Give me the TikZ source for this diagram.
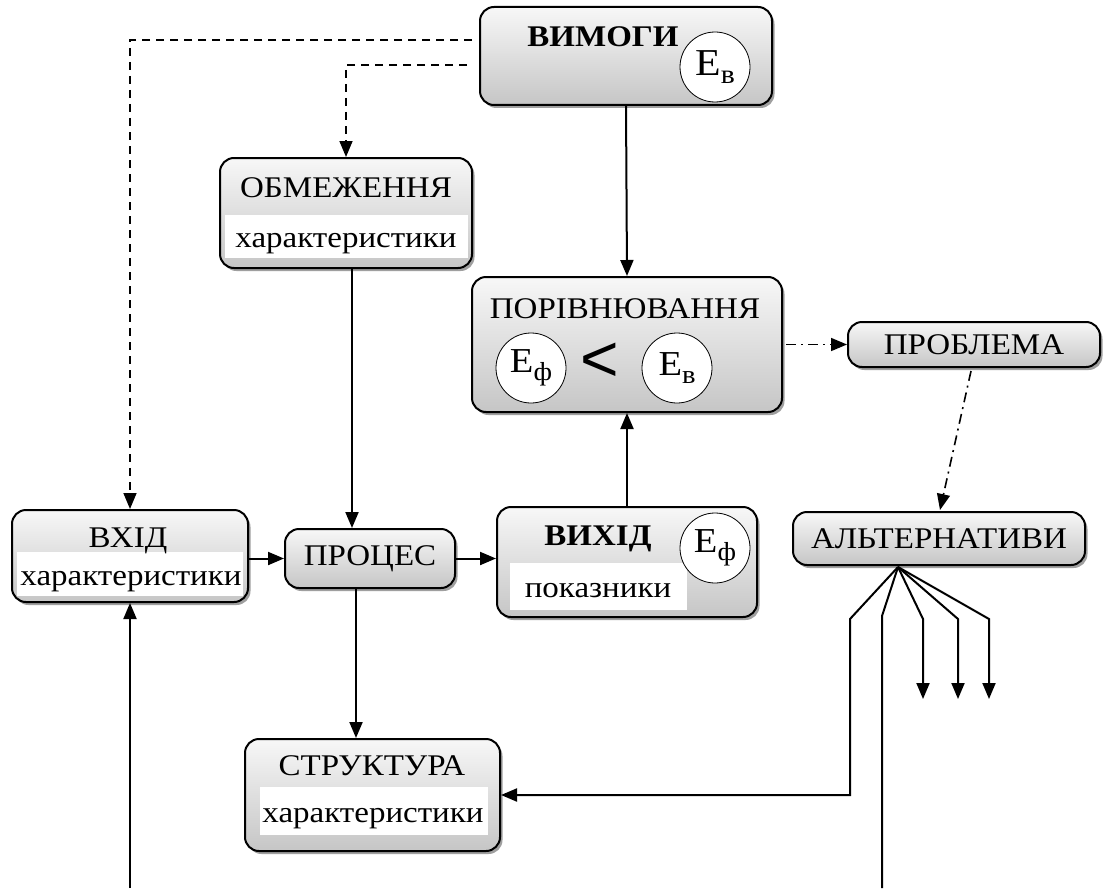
\documentclass[tikz,border=0pt]{standalone}
\usepackage{fontspec}
\setmainfont{Liberation Serif}[FakeStretch=1.1]
\newfontfamily\lsans{Liberation Sans}
\usetikzlibrary{arrows.meta,shadows,calc}
\newcommand\tsz{\fontsize{30}{31}\selectfont}
\newcommand\esub[3][35]{{\fontsize{#1}{#1}\selectfont E}\raisebox{-8pt}{\fontsize{#2}{#2}\selectfont #3}}
\begin{document}
\begin{tikzpicture}[x=1pt,y=-1pt,
  box/.style={draw, line width=2pt, rounded corners=14pt, top color=gray!6, bottom color=gray!45,
    drop shadow={shadow xshift=2.5pt, shadow yshift=-3pt, fill=gray!75, opacity=1}, inner sep=0pt, font=\tsz},
  strip/.style={fill=white, inner sep=0pt},
  circ/.style={circle, draw, line width=0.8pt, fill=white, inner sep=0pt, minimum size=70pt},
  txt/.style={anchor=base, inner sep=0pt, font=\tsz},
  ln/.style={line width=2pt},
  arr/.style={ln, -{Triangle[length=16pt,width=13pt]}},
  dsh/.style={arr, line width=1.6pt, dash pattern=on 8pt off 6pt},
  dd/.style={arr, line width=1.6pt, dash pattern=on 10pt off 5pt on 2pt off 5pt}]
\path[use as bounding box, fill=white] (0,0) rectangle (1115,888);

% ВИМОГИ
\node[box, minimum width=292pt, minimum height=98pt] (vim) at (626,56) {};
\node[txt, font=\tsz\bfseries] (vimt) at (603,47) {ВИМОГИ};
\node[circ] (vimc) at (715,67) {\esub[38]{27}{в}};

% ОБМЕЖЕННЯ
\node[box, minimum width=252pt, minimum height=110pt] (obm) at (346,213) {};
\node[strip, minimum width=243pt, minimum height=43pt] (obms) at (346.5,236.5) {};
\node[txt] (obmt) at (346,197) {ОБМЕЖЕННЯ};
\node[txt] (obmx) at (346,247) {характеристики};

% ПОРІВНЮВАННЯ
\node[box, minimum width=310pt, minimum height=135pt] (por) at (627,344.5) {};
\node[txt] (port) at (625,318) {ПОРІВНЮВАННЯ};
\node[circ] (porf) at (531,368) {\esub{26}{ф}};
\node[circ] (porv) at (677,368) {\esub{26}{в}};
\node[inner sep=0pt, font=\lsans\fontsize{66}{66}\selectfont] (lt) at (600,362) {<};

% ПРОБЛЕМА
\node[box, minimum width=252pt, minimum height=45pt] (prob) at (974,344.5) {ПРОБЛЕМА};

% АЛЬТЕРНАТИВИ
\node[box, minimum width=292pt, minimum height=53pt] (alt) at (939,538.5) {АЛЬТЕРНАТИВИ};

% ВХІД
\node[box, minimum width=236pt, minimum height=92pt] (vhod) at (130,556) {};
\node[strip, minimum width=226pt, minimum height=44pt] (vhods) at (130,574) {};
\node[txt] (vhodt) at (128,547) {ВХІД};
\node[txt] (vhodx) at (131,585) {характеристики};

% ПРОЦЕС
\node[box, minimum width=170pt, minimum height=59pt] (proc) at (370,558.5) {ПРОЦЕС};

% ВИХІД
\node[box, minimum width=260pt, minimum height=110pt] (vyh) at (627,562) {};
\node[strip, minimum width=177pt, minimum height=47pt] (vyhs) at (598.5,586.5) {};
\node[txt, font=\tsz\bfseries] (vyht) at (598,545) {ВИХІД};
\node[txt] (vyhx) at (598,597) {показники};
\node[circ] (vyhc) at (715,548) {\esub{26}{ф}};

% СТРУКТУРА
\node[box, minimum width=255pt, minimum height=112pt] (str) at (372.5,795) {};
\node[strip, minimum width=228pt, minimum height=48pt] (strs) at (374,811) {};
\node[txt] (strt) at (372,775) {СТРУКТУРА};
\node[txt] (strx) at (373,822) {характеристики};

% connectors
\draw[arr] (vim.south) -- (por.north);
\coordinate (d1) at ($(vim.west)+(-7,-16)$);
\coordinate (d2) at ($(vim.west)+(-12,9)$);
\draw[dsh] (d1) -| (vhod.north);
\draw[dsh] (d2) -| (obm.north);
\draw[arr] ([xshift=6pt]obm.south) -- ([xshift=6pt]obm.south |- proc.north);
\draw[arr] (vhod.east |- proc.west) -- (proc.west);
\draw[arr] (proc.east) -- (proc.east -| vyh.west);
\draw[arr] ([xshift=-14pt]proc.south) -- ([xshift=-14pt]proc.south |- str.north);
\draw[arr] (vyh.north) -- (vyh.north |- por.south);
\draw[dd] ([xshift=3pt]por.east |- prob.west) -- (prob.west);
\draw[dd] ($(prob.south)+(-3,3)$) -- ($(alt.north)+(1,-1)$);

\coordinate (f0) at ($(alt.south)+(-41,1)$);
\coordinate (b1) at (130,888);
\coordinate (b2) at (882,888);
\draw[arr] (f0) -- ++(-48,52) |- (str.east);
\draw[ln] (f0) -- ++(-16,49) -- (b2);
\draw[arr] (f0) -- ++(25,52) -- ++(0,80);
\draw[arr] (f0) -- ++(60,52) -- ++(0,80);
\draw[arr] (f0) -- ++(91,52) -- ++(0,80);
\draw[arr] (b1) -- (vhod.south);
\end{tikzpicture}
\end{document}
